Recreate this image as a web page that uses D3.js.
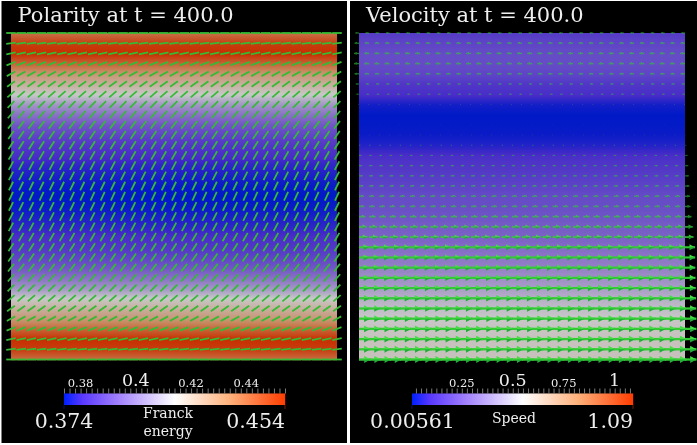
<!DOCTYPE html>
<html>
<head>
<meta charset="utf-8">
<script src="https://cdn.jsdelivr.net/npm/d3@7"></script>
<style>
  html, body { margin: 0; padding: 0; background: #fff; overflow: hidden; }
  svg { display: block; filter: blur(0.35px); }
  text { font-family: "DejaVu Serif", serif; fill: #eee; }
</style>
</head>
<body>
<div class="map"></div>
<script>
//values per mesh row, top to bottom
var franckEnergy = [0.4396, 0.4508, 0.454, 0.442, 0.43, 0.422, 0.414, 0.4036, 0.3962, 0.3902, 0.3862, 0.383, 0.381, 0.3782, 0.3764, 0.3748, 0.374,
                    0.3748, 0.3764, 0.3782, 0.381, 0.383, 0.3862, 0.3902, 0.3962, 0.4036, 0.414, 0.422, 0.43, 0.442, 0.454, 0.4508, 0.4396];
//polarity angle in degrees per row
var polarityAngle = [0, 7, 12, 21, 29, 36, 41, 45, 49, 52, 55, 58, 60, 62, 63, 64, 65,
                     64, 63, 62, 60, 58, 55, 52, 49, 45, 41, 36, 29, 21, 12, 7, 0];
//horizontal velocity per row, negative flows left
var velocity = [-0.14, -0.17, -0.19, -0.19, -0.17, -0.125, -0.1, -0.03, -0.005, 0.01, 0.02, 0.05, 0.1, 0.125, 0.145, 0.165, 0.19,
                0.2, 0.22, 0.245, 0.26, 0.29, 0.32, 0.35, 0.39, 0.43, 0.48, 0.52, 0.55, 0.56, 0.57, 0.57, 0.58];

var energyTicks = [0.38, 0.4, 0.42, 0.44];
var speedTicks = [0.25, 0.5, 0.75, 1];
var energyBigTicks = [0.4];
var speedBigTicks = [0.5, 1];

//colormap stops and legend range
var colorStops = [0, 0.08, 0.25, 0.5, 0.75, 1];
var colorValues = ["#0020ff", "#5a38ff", "#a484fc", "#ffffff", "#ffb07a", "#ff3c00"];
var energyRange = [0.374, 0.454];
var speedRange = [0.00561, 1.09];

//svg dims
var width = 697;
var height = 445;
var meshTop = 33;
var meshBottom = 359.5;
var meshSize = 326;
var lighting = 0.78; //mesh is darker than the legend

var svg = d3.select(".map")
            .append("svg")
            .attr("width", width)
            .attr("height", height);

//black panels with white edges between
svg.append("rect").attr("x", 1.5).attr("y", 1).attr("width", 345.5).attr("height", 442).attr("fill", "#000");
svg.append("rect").attr("x", 350).attr("y", 1).attr("width", 347).attr("height", 442).attr("fill", "#000");

var unit = d3.scaleLinear().domain(colorStops).range(colorValues).interpolate(d3.interpolateRgb);
var rowY = d3.scaleLinear().domain([0, 32]).range([meshTop, meshBottom]);

function shaded(t) {
  var c = d3.rgb(unit(t));
  return d3.rgb(c.r * lighting, c.g * lighting, c.b * lighting).formatHex();
}

function drawMesh(left, values, domain) {
  var valueAt = d3.scaleLinear().domain(values.map((d, i) => rowY(i))).range(values);
  var t = d3.scaleLinear().domain(domain).range([0, 1]).clamp(true);
  svg.append("g")
     .selectAll("rect")
     .data(d3.range(meshTop, meshBottom, 1))
     .enter()
     .append("rect")
     .attr("x", left)
     .attr("y", d => d)
     .attr("width", meshSize)
     .attr("height", 1.2)
     .attr("fill", d => shaded(t(valueAt(d))));
}

function drawLegend(left, domain, step, ticks, bigTicks, minText, maxText) {
  var barW = 221;
  var barY = 393.5;
  var barH = 11.5;
  var x = d3.scaleLinear().domain(domain).range([left, left + barW]);
  var t = d3.scaleLinear().domain([left, left + barW]).range([0, 1]);
  var g = svg.append("g");
  //colour bar
  g.selectAll("rect")
   .data(d3.range(left, left + barW, 1))
   .enter()
   .append("rect")
   .attr("x", d => d)
   .attr("y", barY)
   .attr("width", 1.2)
   .attr("height", barH)
   .attr("fill", d => unit(t(d)));
  //ticks on top of the bar
  var minor = d3.range(Math.ceil(domain[0] / step), Math.floor(domain[1] / step) + 1).map(d => d * step);
  var axis = d3.axisTop(x).tickValues(minor).tickSize(5).tickFormat("");
  var ax = g.append("g").attr("transform", `translate(0, ${barY})`).call(axis);
  ax.select(".domain").remove();
  ax.selectAll("line").attr("stroke", "#999").attr("stroke-width", 0.8);
  //labelled ticks
  g.selectAll(".lab")
   .data(ticks)
   .enter()
   .append("text")
   .attr("x", d => x(d))
   .attr("y", d => bigTicks.includes(d) ? 385.5 : 386.5)
   .attr("text-anchor", "middle")
   .attr("font-size", d => bigTicks.includes(d) ? 17.5 : 11.5)
   .text(d => d);
  //dark end marks below the bar
  g.append("line").attr("x1", left).attr("x2", left).attr("y1", barY + barH).attr("y2", barY + barH + 4).attr("stroke", "#00106a");
  g.append("line").attr("x1", left + barW).attr("x2", left + barW).attr("y1", barY + barH).attr("y2", barY + barH + 4).attr("stroke", "#701800");
  //range labels
  g.append("text").attr("x", minText.x).attr("y", 428).attr("font-size", 20.5).attr("text-anchor", "middle").text(minText.s);
  g.append("text").attr("x", maxText.x).attr("y", 428).attr("font-size", 20.5).attr("text-anchor", "end").text(maxText.s);
}

//left panel
svg.append("text").attr("x", 17.5).attr("y", 22).attr("font-size", 21).text("Polarity at t = 400.0");
drawMesh(11, franckEnergy, energyRange);

var colX = d3.scaleLinear().domain([0, 32]).range([11, 337]);
var dashLen = 9.6;
var cells = d3.range(33).flatMap(r => d3.range(33).map(c => ({r: r, c: c})));
svg.append("g")
   .selectAll("line")
   .data(cells)
   .enter()
   .append("line")
   .attr("x1", d => colX(d.c) - dashLen / 2 * Math.cos(polarityAngle[d.r] * Math.PI / 180))
   .attr("x2", d => colX(d.c) + dashLen / 2 * Math.cos(polarityAngle[d.r] * Math.PI / 180))
   .attr("y1", d => rowY(d.r) + dashLen / 2 * Math.sin(polarityAngle[d.r] * Math.PI / 180))
   .attr("y2", d => rowY(d.r) - dashLen / 2 * Math.sin(polarityAngle[d.r] * Math.PI / 180))
   .attr("stroke", "#35bb35")
   .attr("stroke-width", 1.8);

drawLegend(64, energyRange, 0.002, energyTicks, energyBigTicks, {x: 64, s: "0.374"}, {x: 285, s: "0.454"});
svg.append("text").attr("x", 168).attr("y", 418).attr("font-size", 14).attr("text-anchor", "middle").text("Franck");
svg.append("text").attr("x", 168).attr("y", 436).attr("font-size", 14).attr("text-anchor", "middle").text("energy");

//right panel
svg.append("text").attr("x", 366).attr("y", 22).attr("font-size", 21).text("Velocity at t = 400.0");
drawMesh(359, velocity.map(Math.abs), speedRange);

var colX2 = d3.scaleLinear().domain([0, 32]).range([359, 685]);
//glyph length grows fast at low speed then levels off
var glyphLen = d3.scaleLinear().domain([0, 0.19, 0.29, 0.58]).range([0, 5, 10, 11.5]);
//slow glyphs are thin and look dim in the reference
var glyphAlpha = d3.scaleLinear().domain([0, 0.2, 0.3]).range([0.35, 0.6, 1]).clamp(true);
var arrows = svg.append("g")
   .selectAll("g")
   .data(cells)
   .enter()
   .append("g")
   .attr("opacity", d => glyphAlpha(Math.abs(velocity[d.r])))
   .attr("transform", d => `translate(${colX2(d.c)}, ${rowY(d.r)}) scale(${velocity[d.r] < 0 ? -1 : 1}, 1)`);
arrows.append("line")
   .attr("x1", 0)
   .attr("y1", 0)
   .attr("x2", d => glyphLen(Math.abs(velocity[d.r])))
   .attr("y2", 0)
   .attr("stroke", "#33cc33")
   .attr("stroke-width", d => 0.7 + 0.14 * glyphLen(Math.abs(velocity[d.r])));
//cone head, lit from above
arrows.append("path")
   .attr("fill", "#44dd44")
   .attr("d", d => {
     var L = glyphLen(Math.abs(velocity[d.r]));
     return `M${L},0L${L * 0.45},${-L * 0.3}L${L * 0.45},0Z`;
   });
arrows.append("path")
   .attr("fill", "#22b038")
   .attr("d", d => {
     var L = glyphLen(Math.abs(velocity[d.r]));
     return `M${L},0L${L * 0.45},${L * 0.3}L${L * 0.45},0Z`;
   });

drawLegend(412, speedRange, 0.025, speedTicks, speedBigTicks, {x: 412.5, s: "0.00561"}, {x: 633, s: "1.09"});
svg.append("text").attr("x", 514).attr("y", 423).attr("font-size", 14).attr("text-anchor", "middle").text("Speed");
</script>
</body>
</html>
